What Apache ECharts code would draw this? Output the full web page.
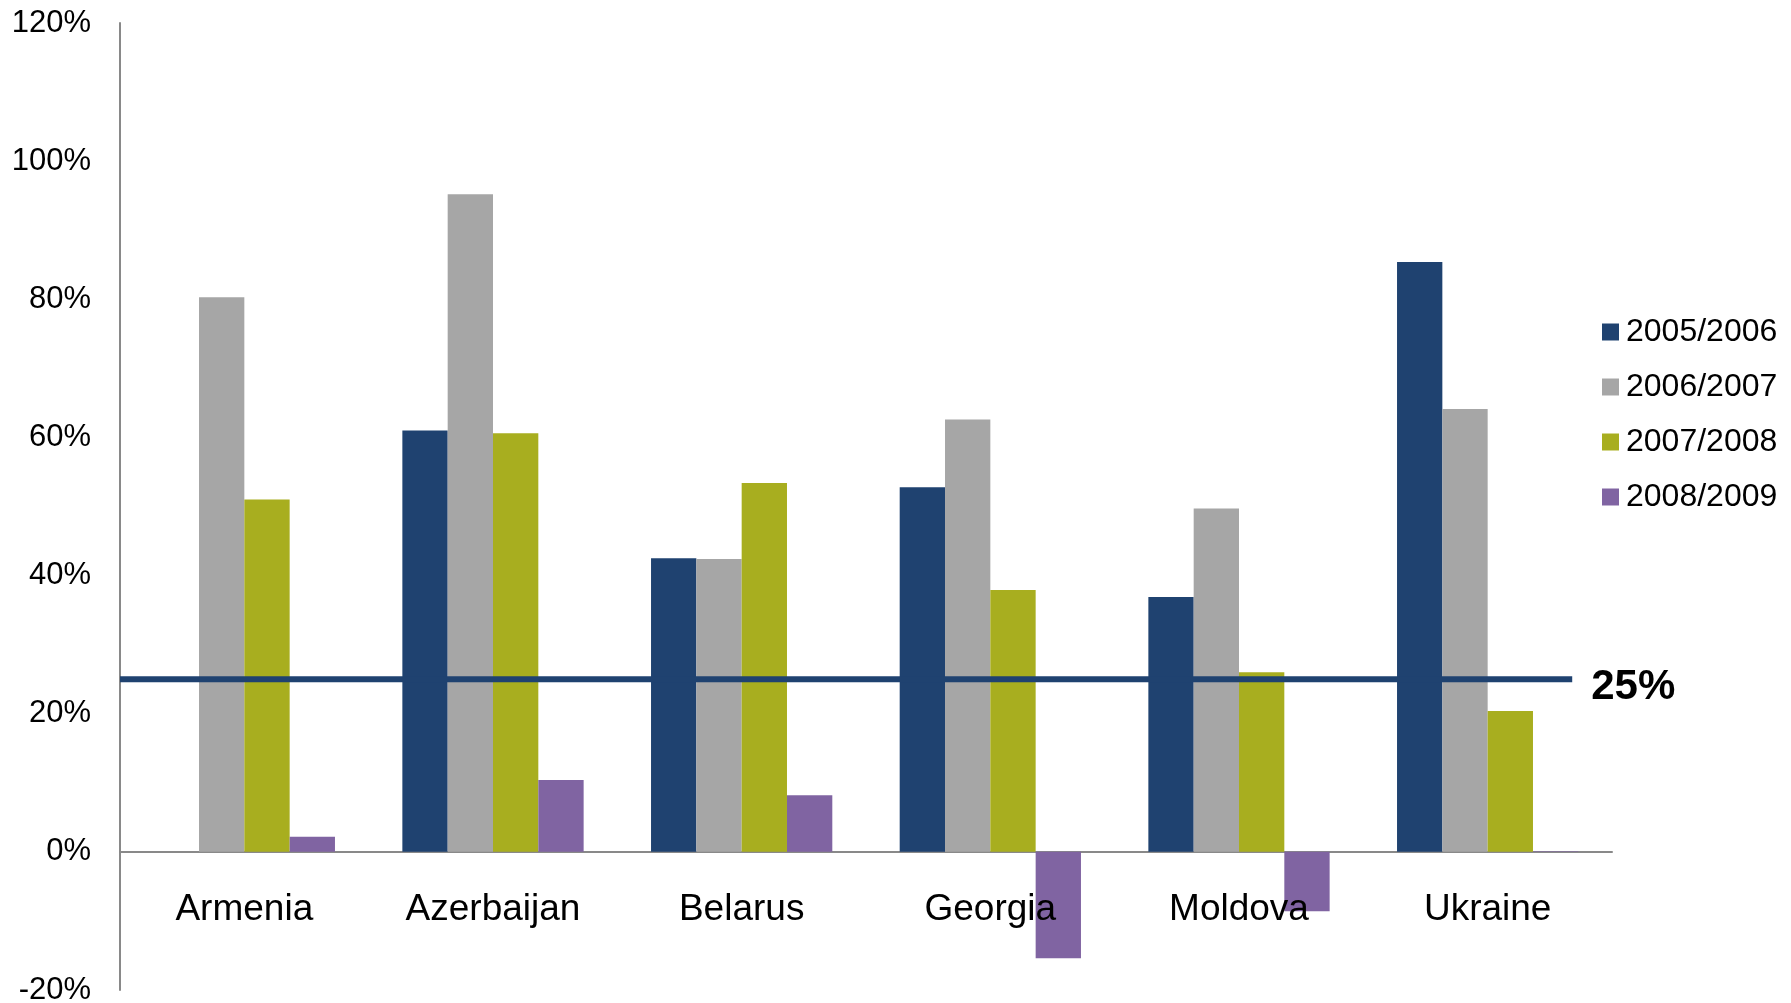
<!DOCTYPE html>
<html>
<head>
<meta charset="utf-8">
<title>Annual growth by country</title>
<script src="https://cdn.jsdelivr.net/npm/echarts@6/dist/echarts.min.js"></script>
<style>
  html, body { margin: 0; padding: 0; background: #ffffff; }
  #chart { width: 1791px; height: 1003px; }
</style>
</head>
<body>
<div id="chart"></div>
<script>
// Countries along the category axis
const countries = ['Armenia', 'Azerbaijan', 'Belarus', 'Georgia', 'Moldova', 'Ukraine'];

// Growth per period, in percent (null = no value)
const growth0506 = [null, 61.0, 42.5, 52.8, 36.9, 85.4];
const growth0607 = [80.3, 95.2, 42.4, 62.6, 49.7, 64.1];
const growth0708 = [51.0, 60.6, 53.4, 37.9, 26.0, 20.4];
const growth0809 = [2.2, 10.4, 8.2, -15.4, -8.6, 0.1];

const periodNames = ['2005/2006', '2006/2007', '2007/2008', '2008/2009'];
const periodColors = ['#1f4270', '#a6a6a6', '#a8ae1f', '#8064a2'];

// Value-axis ticks
const yTicks = [-20, 0, 20, 40, 60, 80, 100, 120];

// Reference threshold and its horizontal extent in category units
const threshold = 25;
const thresholdSpan = [0, 5.84];

const FONT = '"Liberation Sans", Arial, Helvetica, sans-serif';

const GRID = { left: 120, right: 179, top: 23, bottom: 13 };
const PLOT_HEIGHT = 1003 - GRID.top - GRID.bottom;
// distance from the bottom of the plot to the zero line, so country names sit under it
const zeroLift = PLOT_HEIGHT * (0 - yTicks[0]) / (yTicks[yTicks.length - 1] - yTicks[0]);

const chart = echarts.init(document.getElementById('chart'), null, { renderer: 'canvas' });

const periodData = [growth0506, growth0607, growth0708, growth0809];

const barSeries = periodNames.map((name, i) => ({
  name: name,
  type: 'bar',
  xAxisIndex: 0,
  data: periodData[i],
  barGap: '0%',
  barCategoryGap: '27.1%',
  itemStyle: { color: periodColors[i] },
  emphasis: { disabled: true },
  z: 2
}));

const option = {
  animation: false,
  backgroundColor: '#ffffff',
  textStyle: { fontFamily: FONT },
  grid: Object.assign({ containLabel: false, outerBoundsMode: 'none' }, GRID),
  legend: {
    data: periodNames,
    orient: 'vertical',
    left: 1602,
    top: 316,
    padding: 0,
    icon: 'rect',
    itemWidth: 17,
    itemHeight: 17,
    itemGap: 23,
    textStyle: { fontFamily: FONT, fontSize: 32, color: '#000000', lineHeight: 32, padding: [0, 0, 0, 2] },
    selectedMode: false
  },
  xAxis: [
    {
      // axis line drawn along zero
      type: 'category',
      data: countries,
      axisLine: { onZero: true, lineStyle: { color: '#898989', width: 2 } },
      axisTick: { show: false },
      axisLabel: { show: false },
      splitLine: { show: false }
    },
    {
      type: 'value',
      min: 0,
      max: countries.length,
      show: false
    },
    {
      // country names just below the zero line, above the bars
      type: 'category',
      data: countries,
      position: 'bottom',
      offset: -zeroLift,
      z: 6,
      axisLine: { show: false },
      axisTick: { show: false },
      splitLine: { show: false },
      axisLabel: { fontFamily: FONT, fontSize: 37, color: '#000000', margin: 39, lineHeight: 37 }
    }
  ],
  yAxis: {
    type: 'value',
    min: yTicks[0],
    max: yTicks[yTicks.length - 1],
    interval: 20,
    axisLine: { show: true, lineStyle: { color: '#898989', width: 2 } },
    axisTick: { show: false },
    splitLine: { show: false },
    axisLabel: {
      fontFamily: FONT,
      fontSize: 31,
      lineHeight: 31,
      color: '#000000',
      margin: 29,
      padding: [6, 0, 0, 0],
      formatter: v => v + '%'
    }
  },
  series: barSeries.concat([
    {
      name: 'threshold',
      type: 'line',
      xAxisIndex: 1,
      data: thresholdSpan.map(x => [x, threshold]),
      symbol: 'none',
      silent: true,
      z: 5,
      lineStyle: { color: '#1f4270', width: 6 },
      endLabel: {
        show: true,
        formatter: threshold + '%',
        fontFamily: FONT,
        fontSize: 42,
        fontWeight: 'bold',
        color: '#000000',
        distance: 19,
        offset: [0, 8]
      }
    }
  ])
};

chart.setOption(option);
</script>
</body>
</html>
